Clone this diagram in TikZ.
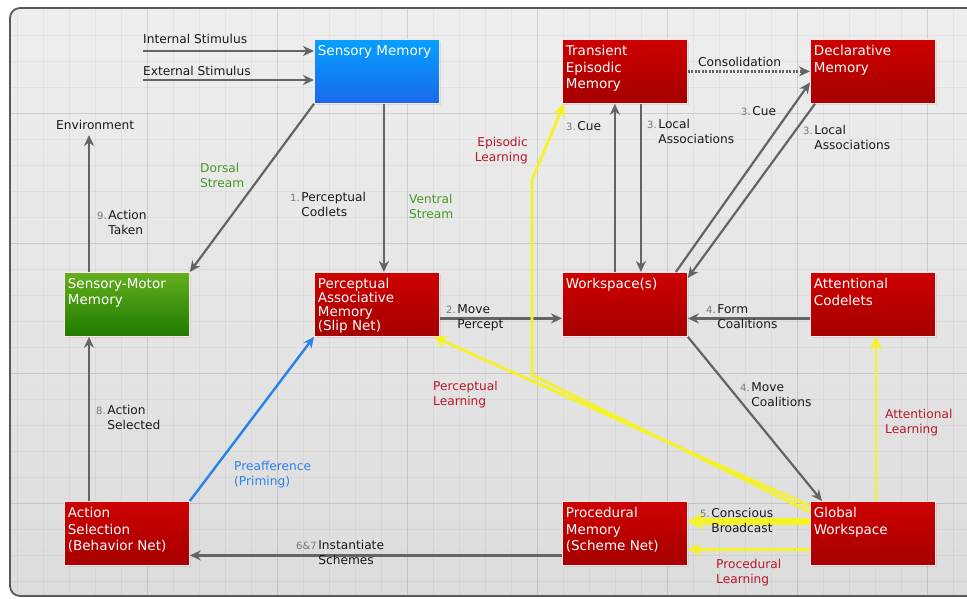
\documentclass[tikz,border=0pt]{standalone}
\usepackage{fontspec}
\setmainfont{DejaVu Sans}
\usetikzlibrary{arrows.meta,shadows}

\definecolor{bgtop}{RGB}{238,238,238}
\definecolor{bgbottom}{RGB}{220,220,220}
\definecolor{boxred}{RGB}{206,0,0}
\definecolor{boxreddark}{RGB}{165,0,0}
\definecolor{boxblue}{RGB}{5,160,255}
\definecolor{boxbluedark}{RGB}{25,105,235}
\definecolor{boxgreen}{RGB}{100,175,30}
\definecolor{boxgreendark}{RGB}{30,122,0}
\definecolor{linegray}{RGB}{100,100,100}
\definecolor{learnyellow}{RGB}{245,242,40}
\definecolor{learnred}{RGB}{180,25,40}
\definecolor{streamgreen}{RGB}{70,150,40}
\definecolor{primeblue}{RGB}{40,130,235}
\definecolor{numgray}{RGB}{120,120,120}

\newcommand{\boxtext}[1]{\parbox[t][52pt][t]{118pt}{\raggedright #1}}
\newcommand{\stepnum}[1]{{\color{numgray}\fontsize{10}{12}\selectfont #1\,}}
\newcommand{\steplab}[3]{\begin{tabular}{@{}l@{}l@{}}\stepnum{#1}&#2\\&#3\end{tabular}}

\begin{document}
\begin{tikzpicture}[x=1pt,y=-1pt,
  mem/.style={draw=white!90!red, line width=0.8pt, anchor=north west,
    minimum width=125pt, minimum height=64pt, inner xsep=3pt, inner ysep=5pt,
    text=white, font=\fontsize{13.5}{16.5}\selectfont,
    drop shadow={opacity=0.18,shadow xshift=2pt,shadow yshift=-2pt}},
  redmem/.style={mem, top color=boxred, bottom color=boxreddark},
  bluemem/.style={mem, top color=boxblue, bottom color=boxbluedark},
  greenmem/.style={mem, top color=boxgreen, bottom color=boxgreendark},
  lab/.style={inner sep=0pt, align=left, anchor=west, text=black!90,
    font=\fontsize{12.2}{15}\selectfont},
  flow/.style={draw=linegray, line width=2.2pt,
    -{Stealth[length=11pt,width=10pt,inset=3.5pt]}},
  learn/.style={draw=learnyellow, line width=2.8pt,
    -{Stealth[length=13pt,width=13pt,inset=4pt]}},
  prime/.style={draw=primeblue, line width=2.4pt,
    -{Stealth[length=11pt,width=10pt,inset=3.5pt]}},
  gridminor/.style={draw=black, opacity=0.04, line width=0.5pt},
  gridmajor/.style={draw=black, opacity=0.08, line width=0.7pt}]
\useasboundingbox (0,0) rectangle (967,598);
\fill[white] (0,0) rectangle (967,598);
\shade[top color=bgtop, bottom color=bgbottom, rounded corners=10pt] (10,8) rectangle (990,596);
\foreach \x in {17,43,...,967} \draw[gridminor] (\x,9) -- (\x,595);
\foreach \y in {35,61,...,595} \draw[gridminor] (11,\y) -- (967,\y);
\foreach \x in {147,277,...,967} \draw[gridmajor] (\x,9) -- (\x,595);
\foreach \y in {113,243,373,503} \draw[gridmajor] (11,\y) -- (967,\y);
\draw[rounded corners=10pt, draw=black!65, line width=1.8pt] (10,8) rectangle (990,596);

\node[bluemem] (sm) at (314,39) {\boxtext{Sensory Memory}};
\node[redmem] (tem) at (562,39) {\boxtext{Transient\\Episodic\\Memory}};
\node[redmem] (dm) at (810,39) {\boxtext{Declarative\\Memory}};
\node[greenmem] (smm) at (64,272) {\boxtext{Sensory-Motor\\Memory}};
\node[redmem] (pam) at (314,272) {\boxtext{\baselineskip=14pt Perceptual\\Associative\\Memory\\(Slip Net)}};
\node[redmem] (ws) at (562,272) {\boxtext{Workspace(s)}};
\node[redmem] (ac) at (810,272) {\boxtext{Attentional\\Codelets}};
\node[redmem] (as) at (64,501) {\boxtext{Action\\Selection\\(Behavior Net)}};
\node[redmem] (pm) at (562,501) {\boxtext{Procedural\\Memory\\(Scheme Net)}};
\node[redmem] (gw) at (810,501) {\boxtext{Global\\Workspace}};

\coordinate (intin) at (143,51);
\coordinate (extin) at (143,80);
\coordinate (envtip) at (89,135);
\coordinate (epibend) at (532,375);
\coordinate (epiup) at (532,180);

\draw[flow] (intin) -- (intin -| sm.west);
\node[lab] (intlab) at (143,39) {Internal Stimulus};
\draw[flow] (extin) -- (extin -| sm.west);
\node[lab] (extlab) at (143,71) {External Stimulus};
\draw[flow] (smm.north -| envtip) -- (envtip);
\node[lab] (env) at (56,125) {Environment};
\node[lab] (taken) at (97,224) {\steplab{9.}{Action}{Taken}};
\draw[flow] (sm.south west) -- (smm.north east);
\node[lab, text=streamgreen] (dorsal) at (200,175) {Dorsal\\Stream};
\draw[flow] ([xshift=7pt]sm.south) -- ([xshift=7pt]pam.north);
\node[lab] (codlets) at (290,206) {\steplab{1.}{Perceptual}{Codlets}};
\node[lab, text=streamgreen] (ventral) at (409,206) {Ventral\\Stream};

\draw[flow] ([yshift=-14pt]pam.east) -- ([yshift=-14pt]ws.west);
\node[lab] (move) at (446,318) {\steplab{2.}{Move}{Percept}};
\draw[flow] ([yshift=-14pt]ac.west) -- ([yshift=-14pt]ws.east);
\node[lab] (form) at (706,318) {\steplab{4.}{Form}{Coalitions}};
\draw[flow] (ws.south east) -- ([xshift=12pt]gw.north west);
\node[lab] (movecoal) at (740,396) {\steplab{4.}{Move}{Coalitions}};

\draw[flow] ([xshift=-10pt]ws.north) -- ([xshift=-10pt]tem.south);
\node[lab] (cuetem) at (566,126) {\stepnum{3.}Cue};
\draw[flow] ([xshift=16pt]tem.south) -- ([xshift=16pt]ws.north);
\node[lab] (localtem) at (647,133) {\steplab{3.}{Local}{Associations}};
\draw[flow] ([xshift=-12pt]ws.north east) -- ([yshift=-11pt]dm.west);
\draw[flow] ([xshift=5pt]dm.south west) -- ([yshift=-6pt]ws.north east);
\node[lab] (cuedm) at (741,111) {\stepnum{3.}Cue};
\node[lab] (localdm) at (803,139) {\steplab{3.}{Local}{Associations}};
\draw[flow, line width=2.4pt, dash pattern=on 2pt off 1.5pt] (tem.east) -- (dm.west);
\node[lab] (consol) at (698,62) {Consolidation};

\draw[flow] ([yshift=-22pt]pm.west) -- ([yshift=-22pt]as.east);
\node[lab] (inst) at (296,554) {\steplab{6\&7}{Instantiate}{Schemes}};
\draw[flow] (as.north -| envtip) -- (smm.south -| envtip);
\node[lab] (selected) at (96,419) {\steplab{8.}{Action}{Selected}};
\draw[prime] (as.north east) -- (pam.south west);
\node[lab, text=primeblue] (preaff) at (234,475) {Preafference\\(Priming)};

\draw[learn] ([yshift=-5pt]gw.north west) -- ([xshift=-6pt]pam.south east);
\node[lab, text=learnred] (perclearn) at (433,395) {Perceptual\\Learning};
\draw[learn] ([yshift=-11pt]gw.north west) -- (epibend) -- (epiup) -- ([xshift=2pt]tem.south west);
\node[lab, text=learnred, anchor=east, align=right] (epilearn) at (528,151) {Episodic\\Learning};
\draw[learn, line width=7pt, -{Stealth[length=15pt,width=17pt,inset=4pt]}] ([yshift=12pt]gw.west) -- ([yshift=12pt]pm.east);
\node[lab] (broad) at (700,522) {\steplab{5.}{Conscious}{Broadcast}};
\draw[learn] ([yshift=-16pt]gw.west) -- ([yshift=-16pt]pm.east);
\node[lab, text=learnred] (proclearn) at (716,573) {Procedural\\Learning};
\draw[learn] ([xshift=3pt]gw.north) -- ([xshift=3pt]ac.south);
\node[lab, text=learnred] (attlearn) at (885,423) {Attentional\\Learning};
\end{tikzpicture}
\end{document}
